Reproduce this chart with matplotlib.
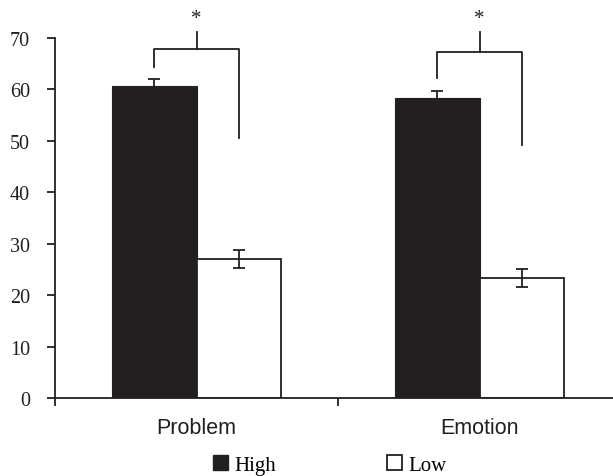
import matplotlib.pyplot as plt
from matplotlib.patches import Patch

categories = ["Problem", "Emotion"]
high_vals = [60.7, 58.3]
high_err = [1.3, 1.4]
low_vals = [27.0, 23.3]
low_err = [1.8, 1.8]

# significance brackets: left leg bottom, right leg bottom, bar top, stem top
left_bottom = [64.4, 62.2]
right_bottom = [50.6, 49.2]
bracket_top = [67.9, 67.3]
stem_top = [71.2, 71.2]

ink = "#231f20"
w = 0.297

fig = plt.figure(figsize=(6.13, 4.77), dpi=100)
ax = fig.add_axes([55 / 613, 78 / 477, 1 - 55 / 613, 360 / 477])

xs = list(range(len(categories)))
hx = [x - w / 2 for x in xs]
lx = [x + w / 2 for x in xs]

ekw = dict(ecolor=ink, elinewidth=1.3, capsize=4.3, capthick=1.3)
ax.bar(hx, high_vals, width=w, color=ink, edgecolor=ink, linewidth=0.8,
       yerr=high_err, error_kw=ekw, zorder=2)
ax.bar(lx, low_vals, width=w, color="white", edgecolor=ink, linewidth=1.3,
       yerr=low_err, error_kw=ekw, zorder=2)

for i in xs:
    ax.plot([hx[i], hx[i], lx[i], lx[i]],
            [left_bottom[i], bracket_top[i], bracket_top[i], right_bottom[i]],
            color=ink, lw=1.3, clip_on=False)
    ax.plot([i, i], [bracket_top[i], stem_top[i]], color=ink, lw=1.3, clip_on=False)
    ax.text(i, stem_top[i] + 0.7, "*", ha="center", va="bottom", fontsize=15,
            family="Liberation Serif", color=ink, clip_on=False)

ax.set_xlim(-0.5, (613 - 55) / 283 - 0.5)
ax.set_ylim(0, 70)
ax.set_yticks(range(0, 71, 10))
ax.set_xticks([-0.5, 0.5])
ax.set_xticklabels([])
ax.set_xticks(xs, minor=True)
ax.set_xticklabels(categories, minor=True, family="Liberation Sans", fontsize=15.5, color=ink)
ax.tick_params(axis="x", which="minor", length=0, pad=14)
ax.tick_params(axis="x", which="major", length=6, width=1.3, color=ink, direction="out")
ax.tick_params(axis="y", length=6, width=1.3, color=ink, pad=12, labelsize=14.5)
for lab in ax.get_yticklabels():
    lab.set_family("Liberation Serif")
    lab.set_color(ink)

for s in ["top", "right"]:
    ax.spines[s].set_visible(False)
for s in ["left", "bottom"]:
    ax.spines[s].set_color(ink)
    ax.spines[s].set_linewidth(1.3)

handles = [Patch(facecolor=ink, edgecolor=ink, label="High"),
           Patch(facecolor="white", edgecolor=ink, linewidth=1.3, label="Low")]
fig.legend(handles=handles, ncol=2, frameon=False, loc="center",
           bbox_to_anchor=(330 / 613, 1 - 466 / 477),
           prop={"family": "Liberation Serif", "size": 15},
           handlelength=0.7, handleheight=0.7, handletextpad=0.35,
           columnspacing=5.3, borderpad=0.1)

fig.savefig("out.png", dpi=100)
